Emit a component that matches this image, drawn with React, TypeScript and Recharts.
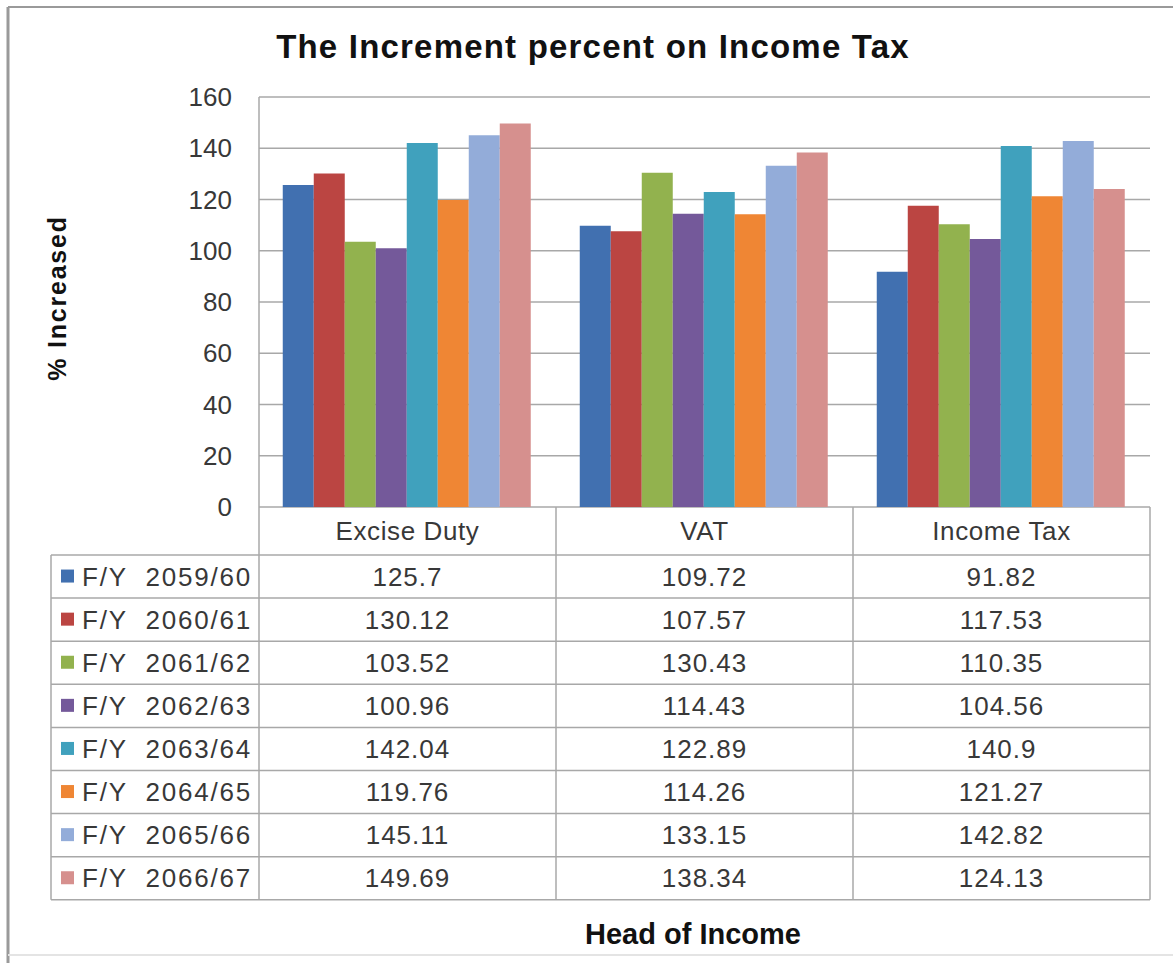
import { Bar, BarChart, CartesianGrid, XAxis, YAxis } from "recharts";

const categories = ["Excise Duty", "VAT", "Income Tax"];
const seriesNames = [
  "F/Y  2059/60",
  "F/Y  2060/61",
  "F/Y  2061/62",
  "F/Y  2062/63",
  "F/Y  2063/64",
  "F/Y  2064/65",
  "F/Y  2065/66",
  "F/Y  2066/67",
];
const fy2059 = [125.7, 109.72, 91.82];
const fy2060 = [130.12, 107.57, 117.53];
const fy2061 = [103.52, 130.43, 110.35];
const fy2062 = [100.96, 114.43, 104.56];
const fy2063 = [142.04, 122.89, 140.9];
const fy2064 = [119.76, 114.26, 121.27];
const fy2065 = [145.11, 133.15, 142.82];
const fy2066 = [149.69, 138.34, 124.13];
const yTicks = [0, 20, 40, 60, 80, 100, 120, 140, 160];

const seriesValues = [fy2059, fy2060, fy2061, fy2062, fy2063, fy2064, fy2065, fy2066];
const colors = ["#4170b0", "#bb4542", "#92b24e", "#74599a", "#40a1bd", "#ef8634", "#93acd9", "#d6908e"];

const data = categories.map((name, i) => {
  const row: Record<string, string | number> = { name };
  seriesValues.forEach((vals, s) => {
    row["s" + s] = vals[i];
  });
  return row;
});

// layout (px)
const W = 1173;
const H = 963;
const plotLeft = 259;
const plotRight = 1150;
const plotTop = 97;
const plotBottom = 507;
const headerBottom = 555;
const rowH = 43.1;
const tableLeft = 51;
const tableBottom = headerBottom + rowH * seriesNames.length;

const font = "'Liberation Sans', Arial, sans-serif";
const lineColor = "#a8a8a8";

const TableColumn = (props: any) => {
  const { x, y, payload } = props;
  const i = categories.indexOf(payload.value);
  return (
    <g>
      <text
        x={x}
        y={y + 24}
        textAnchor="middle"
        dominantBaseline="central"
        fontFamily={font}
        fontSize={26}
        letterSpacing={0.6}
        fill="#383838"
      >
        {payload.value}
      </text>
      {seriesValues.map((vals, s) => (
        <text
          key={s}
          x={x}
          y={headerBottom - plotBottom + y + rowH * s + rowH / 2}
          textAnchor="middle"
          dominantBaseline="central"
          fontFamily={font}
          fontSize={26}
          letterSpacing={1}
          fill="#383838"
        >
          {String(vals[i])}
        </text>
      ))}
    </g>
  );
};

export default function App() {
  const band = (plotRight - plotLeft) / categories.length;
  return (
    <div style={{ position: "absolute", left: 0, top: 0, width: W, height: H, background: "#fff" }}>
      <BarChart
        width={W}
        height={H}
        data={data}
        margin={{ top: plotTop, right: W - plotRight, bottom: 63, left: plotLeft - 100 }}
        barCategoryGap="8%"
        barGap={0}
      >
        <CartesianGrid vertical={false} stroke={lineColor} strokeWidth={1.5} />
        <XAxis
          dataKey="name"
          axisLine={false}
          tickLine={false}
          tickSize={0}
          tickMargin={0}
          interval={0}
          height={H - 63 - plotBottom}
          tick={<TableColumn />}
        />
        <YAxis
          width={100}
          domain={[0, 160]}
          ticks={yTicks}
          axisLine={false}
          tickLine={false}
          tickSize={0}
          tickMargin={27}
          tick={{ fontFamily: font, fontSize: 26, fill: "#383838" }}
        />
        {seriesNames.map((n, s) => (
          <Bar key={n} dataKey={"s" + s} name={n} fill={colors[s]} isAnimationActive={false} />
        ))}
      </BarChart>
      <svg
        width={W}
        height={H}
        style={{ position: "absolute", left: 0, top: 0, pointerEvents: "none" }}
      >
        {/* outer frame */}
        <line x1={8} y1={7} x2={W} y2={7} stroke="#9a9a9a" strokeWidth={2} />
        <line x1={8} y1={7} x2={8} y2={H} stroke="#9a9a9a" strokeWidth={3} />
        <line x1={8} y1={955} x2={W} y2={955} stroke="#e4e4e4" strokeWidth={2} />

        <text
          x={593}
          y={46}
          textAnchor="middle"
          dominantBaseline="central"
          fontFamily={font}
          fontWeight="bold"
          fontSize={33}
          letterSpacing={1.2}
          fill="#111"
        >
          The Increment percent on Income Tax
        </text>
        <text
          transform="translate(57,298) rotate(-90)"
          textAnchor="middle"
          dominantBaseline="central"
          fontFamily={font}
          fontWeight="bold"
          fontSize={25}
          letterSpacing={1.8}
          fill="#111"
        >
          % Increased
        </text>
        <text
          x={693}
          y={934}
          textAnchor="middle"
          dominantBaseline="central"
          fontFamily={font}
          fontWeight="bold"
          fontSize={29}
          fill="#111"
        >
          Head of Income
        </text>

        {/* data table grid */}
        <line x1={plotLeft} y1={plotTop} x2={plotLeft} y2={tableBottom} stroke={lineColor} strokeWidth={1.5} />
        {categories.map((c, i) => (
          <line
            key={c}
            x1={plotLeft + band * (i + 1)}
            y1={plotBottom}
            x2={plotLeft + band * (i + 1)}
            y2={tableBottom}
            stroke={lineColor}
            strokeWidth={1.5}
          />
        ))}
        <line x1={tableLeft} y1={headerBottom} x2={tableLeft} y2={tableBottom} stroke={lineColor} strokeWidth={1.5} />
        {seriesNames.concat([""]).map((_, k) => (
          <line
            key={k}
            x1={tableLeft}
            y1={headerBottom + rowH * k}
            x2={plotRight}
            y2={headerBottom + rowH * k}
            stroke={lineColor}
            strokeWidth={1.5}
          />
        ))}
        {seriesNames.map((n, s) => {
          const cy = headerBottom + rowH * s + rowH / 2;
          return (
            <g key={n}>
              <rect x={61} y={cy - 7} width={13} height={13} fill={colors[s]} />
              <text
                x={82}
                y={cy}
                dominantBaseline="central"
                fontFamily={font}
                fontSize={26}
                letterSpacing={1.8}
                fill="#383838"
                style={{ whiteSpace: "pre" }}
              >
                {n}
              </text>
            </g>
          );
        })}
      </svg>
    </div>
  );
}
